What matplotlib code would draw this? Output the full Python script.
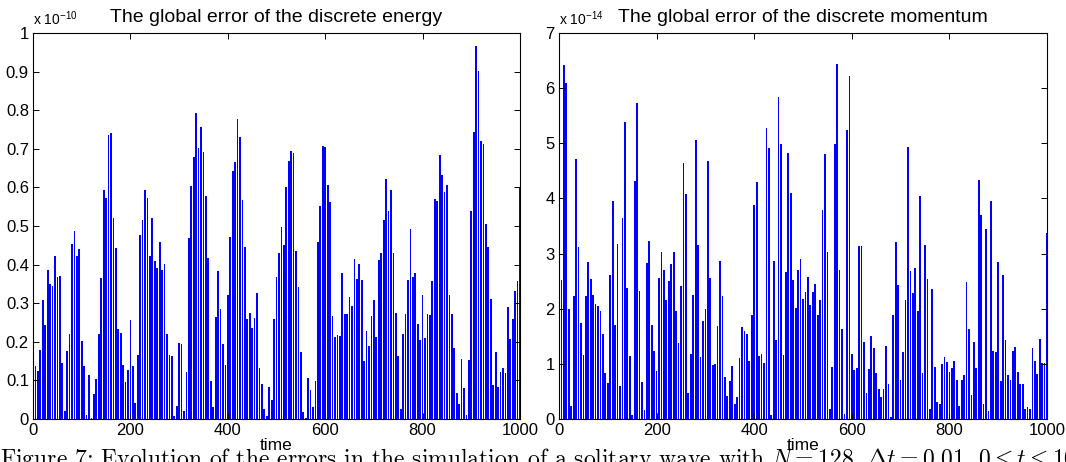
import numpy as np
import matplotlib.pyplot as plt

plt.rcParams['font.family'] = ['Liberation Sans', 'DejaVu Sans']
plt.rcParams['mathtext.fontset'] = 'custom'
plt.rcParams['mathtext.rm'] = 'Liberation Sans'
plt.rcParams['mathtext.it'] = 'Liberation Sans:italic'

# sampled every 5 time units
time_steps = np.arange(5, 1001, 5)

# energy error, in units of 1e-10
energy_err = [
    0.137, 0.125, 0.179, 0.308, 0.243, 0.386, 0.351, 0.345, 0.422, 0.367,
    0.370, 0.144, 0.021, 0.177, 0.220, 0.453, 0.486, 0.422, 0.441, 0.203,
    0.136, 0.010, 0.115, 0.002, 0.065, 0.104, 0.220, 0.365, 0.593, 0.572,
    0.737, 0.740, 0.521, 0.442, 0.233, 0.222, 0.139, 0.096, 0.127, 0.256,
    0.137, 0.041, 0.165, 0.477, 0.516, 0.593, 0.572, 0.422, 0.521, 0.408,
    0.390, 0.458, 0.386, 0.402, 0.219, 0.165, 0.162, 0.008, 0.034, 0.196,
    0.194, 0.021, 0.122, 0.468, 0.603, 0.680, 0.792, 0.702, 0.756, 0.692,
    0.578, 0.417, 0.099, 0.032, 0.263, 0.383, 0.285, 0.194, 0.140, 0.321,
    0.471, 0.642, 0.666, 0.776, 0.730, 0.567, 0.445, 0.259, 0.274, 0.237,
    0.262, 0.326, 0.131, 0.090, 0.026, 0.009, 0.082, 0.049, 0.259, 0.369,
    0.429, 0.497, 0.450, 0.600, 0.669, 0.693, 0.690, 0.435, 0.341, 0.174,
    0.017, 0.002, 0.106, 0.075, 0.031, 0.099, 0.459, 0.552, 0.708, 0.705,
    0.605, 0.562, 0.267, 0.212, 0.218, 0.215, 0.378, 0.272, 0.272, 0.317,
    0.294, 0.414, 0.362, 0.402, 0.360, 0.150, 0.229, 0.190, 0.267, 0.307,
    0.212, 0.412, 0.431, 0.515, 0.623, 0.539, 0.592, 0.429, 0.275, 0.163,
    0.026, 0.220, 0.272, 0.360, 0.492, 0.367, 0.377, 0.245, 0.205, 0.321,
    0.210, 0.272, 0.269, 0.358, 0.569, 0.566, 0.683, 0.632, 0.587, 0.606,
    0.320, 0.271, 0.185, 0.068, 0.039, 0.155, 0.080, 0.010, 0.153, 0.539,
    0.743, 0.965, 0.902, 0.720, 0.712, 0.505, 0.446, 0.311, 0.088, 0.174,
    0.083, 0.122, 0.133, 0.119, 0.290, 0.206, 0.258, 0.332, 0.358, 0.598,
]

# momentum error, in units of 1e-14
momentum_err = [
    2.52, 6.42, 6.09, 1.99, 0.24, 2.23, 4.72, 3.11, 1.74, 1.16,
    2.23, 2.85, 2.54, 2.25, 2.08, 2.05, 1.96, 1.55, 0.83, 0.66,
    2.61, 3.95, 1.70, 3.17, 0.60, 3.64, 5.39, 2.38, 1.14, 0.07,
    4.31, 5.73, 2.33, 0.67, 0.16, 2.83, 3.23, 1.70, 1.23, 0.87,
    2.56, 3.03, 2.70, 2.16, 2.51, 2.81, 3.03, 1.96, 1.38, 2.41,
    4.64, 4.08, 0.48, 1.17, 2.25, 5.06, 3.16, 1.13, 1.78, 1.99,
    4.67, 2.55, 0.97, 0.99, 1.69, 2.87, 2.23, 0.76, 0.42, 0.69,
    0.96, 0.28, 0.40, 1.11, 1.66, 1.60, 1.54, 1.05, 1.89, 3.88,
    4.29, 1.14, 1.18, 1.01, 5.28, 4.92, 0.08, 2.87, 1.43, 5.84,
    4.99, 1.16, 2.67, 4.83, 4.10, 2.52, 2.01, 2.70, 2.91, 2.18,
    2.30, 2.57, 2.07, 2.30, 2.44, 1.89, 2.16, 3.79, 4.80, 3.02,
    0.18, 0.94, 4.99, 6.44, 2.70, 1.64, 0.09, 5.24, 6.22, 1.18,
    0.88, 0.93, 3.14, 3.14, 1.40, 0.47, 0.90, 1.51, 1.29, 0.83,
    0.55, 0.40, 0.54, 1.32, 0.63, 0.04, 1.89, 3.21, 2.43, 0.71,
    1.22, 2.16, 4.93, 2.69, 2.29, 2.73, 1.95, 4.05, 0.83, 3.15,
    2.54, 0.18, 2.36, 0.95, 0.30, 0.27, 0.99, 1.13, 1.03, 0.85,
    0.93, 1.05, 0.70, 0.23, 0.71, 0.79, 2.48, 1.64, 0.44, 1.40,
    0.92, 4.33, 3.70, 0.28, 3.44, 0.15, 3.95, 1.24, 1.22, 2.84,
    0.68, 2.62, 1.44, 0.79, 0.71, 1.24, 1.30, 0.86, 0.63, 0.63,
    0.19, 0.21, 0.18, 1.28, 1.06, 0.81, 1.45, 1.01, 1.01, 3.37,
]

time_ticks = [0, 200, 400, 600, 800, 1000]
energy_ticks = [0, 0.1, 0.2, 0.3, 0.4, 0.5, 0.6, 0.7, 0.8, 0.9, 1]
energy_labels = ['0', '0.1', '0.2', '0.3', '0.4', '0.5', '0.6', '0.7', '0.8', '0.9', '1']
momentum_ticks = [0, 1, 2, 3, 4, 5, 6, 7]
momentum_labels = ['0', '1', '2', '3', '4', '5', '6', '7']

caption = (r'Figure 7: Evolution of the errors in the simulation of a solitary wave '
           r'with $N = 128$, $\Delta t = 0.01$, $0 \leq t \leq 1000$.')


def draw_panel(ax, x_value, y_value, title, yticks, ylabels, exponent):
    ax.bar(x_value, y_value, width=3.6, color='#0000ff', linewidth=0)
    ax.set_xlim(0, 1000)
    ax.set_ylim(yticks[0], yticks[-1])
    ax.set_xticks(time_ticks)
    ax.set_yticks(yticks)
    ax.set_yticklabels(ylabels)
    ax.tick_params(direction='in', top=True, right=True, length=4, width=0.7,
                   labelsize=12, pad=3)
    for side in ax.spines.values():
        side.set_linewidth(0.8)
    ax.set_title(title, fontsize=14, pad=8)
    ax.set_xlabel('time', fontsize=12.5, labelpad=0)
    ax.text(0, 1.012, r'x $10^{%d}$' % exponent, transform=ax.transAxes,
            ha='left', va='bottom', fontsize=10)


fig = plt.figure(figsize=(10.66, 4.62), dpi=100)
ax1 = fig.add_axes([0.031, 0.0931, 0.4568, 0.8355])
ax2 = fig.add_axes([0.5244, 0.0931, 0.4578, 0.8355])

draw_panel(ax1, time_steps, energy_err, 'The global error of the discrete energy',
           energy_ticks, energy_labels, -10)
draw_panel(ax2, time_steps, momentum_err, 'The global error of the discrete momentum',
           momentum_ticks, momentum_labels, -14)

fig.text(0.0, 0.035, caption, ha='left', va='top', fontsize=17,
         family='cmr10', math_fontfamily='cm')

fig.savefig('out.png', dpi=100)
